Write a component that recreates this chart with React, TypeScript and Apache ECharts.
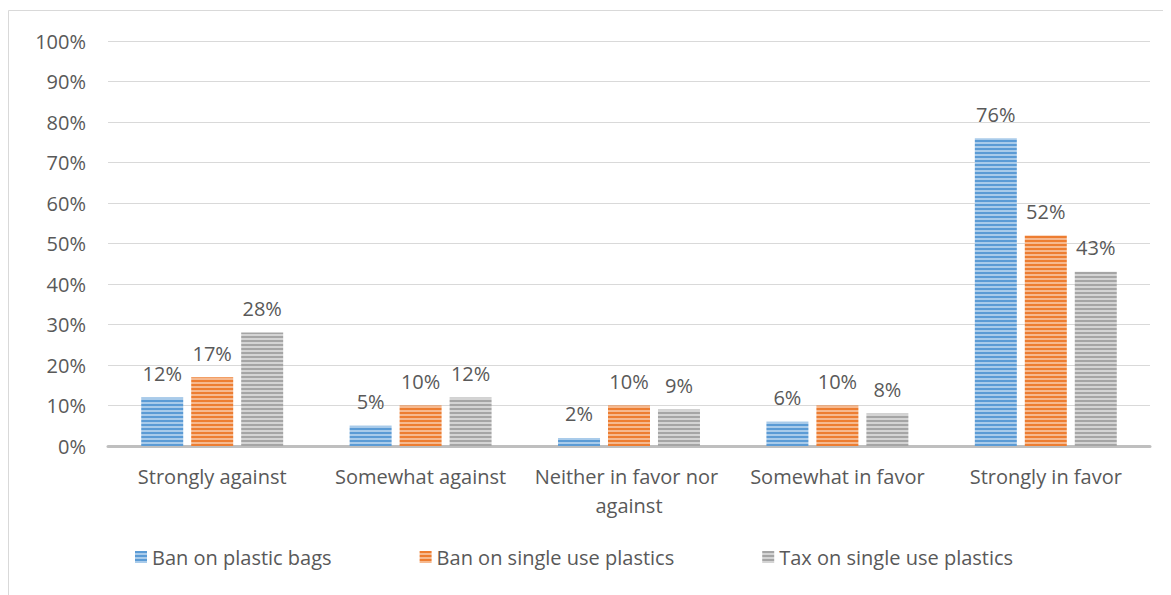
import React, { useEffect, useRef } from "react";
import * as echarts from "echarts";

const categories = [
  "Strongly against",
  "Somewhat against",
  "Neither in favor nor against",
  "Somewhat in favor",
  "Strongly in favor",
];
const seriesNames = [
  "Ban on plastic bags",
  "Ban on single use plastics",
  "Tax on single use plastics",
];
const banPlasticBags = [12, 5, 2, 6, 76];
const banSingleUse = [17, 10, 10, 10, 52];
const taxSingleUse = [28, 12, 9, 8, 43];
const yTicks = [0, 10, 20, 30, 40, 50, 60, 70, 80, 90, 100];

const FONT = "Open Sans";
const FONT_SIZE = 20;
const TEXT = "#595959";

// Horizontal-stripe fill: two rows of the base tone, two rows of a lighter tone.
function stripes(dark: string, light: string) {
  const c = document.createElement("canvas");
  c.width = 4;
  c.height = 4;
  const ctx = c.getContext("2d")!;
  ctx.fillStyle = dark;
  ctx.fillRect(0, 0, 4, 2);
  ctx.fillStyle = light;
  ctx.fillRect(0, 2, 4, 2);
  return { image: c, repeat: "repeat" } as any;
}

export default function App() {
  const ref = useRef<HTMLDivElement>(null);

  useEffect(() => {
    if (!ref.current) return;
    const chart = echarts.init(ref.current, undefined, { renderer: "svg" });
    const fills = [
      stripes("#5B9BD5", "#A9CBEA"),
      stripes("#ED7D31", "#F6B98F"),
      stripes("#A5A5A5", "#D4D4D4"),
    ];
    const values = [banPlasticBags, banSingleUse, taxSingleUse];

    chart.setOption({
      animation: false,
      textStyle: { fontFamily: FONT },
      graphic: [
        {
          type: "rect",
          shape: { x: 0.5, y: 2.5, width: 3000, height: 3000 },
          style: { fill: "none", stroke: "#D9D9D9", lineWidth: 1 },
          silent: true,
        },
      ],
      grid: { left: 100, right: 21, top: 33, bottom: 149 },
      legend: {
        left: 122,
        top: 534,
        itemWidth: 12,
        itemHeight: 12,
        itemGap: 88,
        icon: "rect",
        textStyle: { fontFamily: FONT, fontSize: FONT_SIZE, color: TEXT },
        data: seriesNames,
      },
      xAxis: {
        type: "category",
        data: categories,
        axisLine: { lineStyle: { color: "#BFBFBF", width: 3 } },
        axisTick: { show: false },
        axisLabel: {
          interval: 0,
          margin: 16,
          color: TEXT,
          fontFamily: FONT,
          fontSize: FONT_SIZE,
          width: 200,
          overflow: "break",
          lineHeight: 29,
        },
      },
      yAxis: {
        type: "value",
        min: yTicks[0],
        max: yTicks[yTicks.length - 1],
        interval: yTicks[1] - yTicks[0],
        axisLine: { show: false },
        axisTick: { show: false },
        splitLine: { lineStyle: { color: "#D9D9D9", width: 1 } },
        axisLabel: {
          margin: 22,
          color: TEXT,
          fontFamily: FONT,
          fontSize: FONT_SIZE,
          formatter: "{value}%",
        },
      },
      series: seriesNames.map((name, i) => ({
        name,
        type: "bar",
        data: values[i],
        barWidth: 42,
        barGap: "19%",
        itemStyle: { color: fills[i] },
        label: {
          show: true,
          position: "top",
          distance: 14,
          color: TEXT,
          fontFamily: FONT,
          fontSize: FONT_SIZE,
          formatter: "{c}%",
        },
      })),
    });

    return () => chart.dispose();
  }, []);

  return <div ref={ref} style={{ width: 1163, height: 587 }} />;
}
